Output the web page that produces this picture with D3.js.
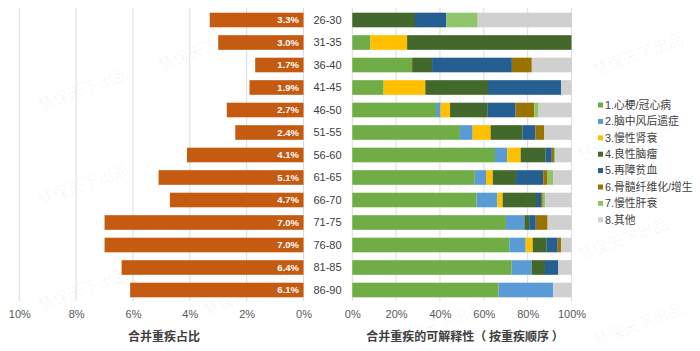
<!DOCTYPE html>
<html><head><meta charset="utf-8">
<script src="https://cdn.jsdelivr.net/npm/d3@7"></script>
<style>
html,body{margin:0;padding:0;background:#fff;}
svg{display:block;font-family:"Liberation Sans",Arial,"Noto Sans CJK SC",sans-serif;}
</style></head>
<body>
<svg id="c" width="700" height="351"></svg>
<script>
const ages = ["26-30","31-35","36-40","41-45","46-50","51-55","56-60","61-65","66-70","71-75","76-80","81-85","86-90"];
const share = [3.3,3.0,1.7,1.9,2.7,2.4,4.1,5.1,4.7,7.0,7.0,6.4,6.1];
const diseases = ["1.心梗/冠心病","2.脑中风后遗症","3.慢性肾衰","4.良性脑瘤","5.再障贫血","6.骨髓纤维化/增生","7.慢性肝衰","8.其他"];
const s1 = [0, 8.3, 27.3, 14.3, 38.2, 49.1, 65.1, 55.9, 56.7, 70.1, 71.6, 72.7, 66.7];
const s2 = [0, 0, 0, 0, 2.1, 5.8, 5.6, 5.1, 9.5, 8.4, 7.5, 9.1, 25.0];
const s3 = [0, 16.7, 0, 19.0, 4.3, 8.2, 6.1, 3.1, 2.4, 0, 3.2, 0, 0];
const s4 = [28.6, 75.0, 9.1, 28.6, 17.2, 14.6, 11.4, 10.6, 15.2, 2.2, 6.4, 6.1, 0];
const s5 = [14.3, 0, 36.4, 33.3, 12.7, 5.8, 2.8, 12.4, 2.3, 3.0, 5.0, 6.1, 0];
const s6 = [0, 0, 9.1, 0, 8.5, 4.1, 1.0, 2.0, 0.8, 5.4, 1.5, 0, 0];
const s7 = [14.3, 0, 0, 0, 2.0, 0, 0.6, 2.6, 1.1, 0, 0, 0, 0];
const s8 = [42.9, 0, 18.2, 4.8, 15.0, 12.4, 7.4, 8.3, 12.0, 10.9, 4.8, 6.0, 8.3];
const leftTicks = [0,2,4,6,8,10];
const rightTicks = [0,20,40,60,80,100];
const colors = ["#70AD47","#5B9BD5","#FFC000","#43682B","#255E91","#997300","#8FC46A","#D0D0D0"];
const series = [s1,s2,s3,s4,s5,s6,s7,s8];

const svg = d3.select("#c");

// watermark
const wm = [[85,95],[205,55],[85,190],[85,295],[250,300],[440,330],[420,40],[640,60],[625,145],[625,245],[470,190],[640,330]];
svg.append("g").selectAll("text").data(wm).join("text")
  .attr("transform", d=>`translate(${d[0]},${d[1]}) rotate(-20)`)
  .attr("text-anchor","middle").attr("font-size",16)
  .attr("font-family","Noto Sans CJK SC").attr("fill","#000").attr("fill-opacity",0.04)
  .text("慧保天下出品");

const y = d3.scaleBand().domain(ages).range([8.75, 301.25]).paddingInner(0.35).paddingOuter(0.175);
const xl = d3.scaleLinear().domain([0,10]).range([303.5, 19.3]);
const xr = d3.scaleLinear().domain([0,100]).range([352.3, 571.5]);

// gridlines
svg.append("g").selectAll("line").data(leftTicks).join("line")
  .attr("x1",d=>xl(d)).attr("x2",d=>xl(d)).attr("y1",8).attr("y2",301)
  .attr("stroke","#dcdcdc").attr("stroke-width",1);
svg.append("g").selectAll("line").data(rightTicks).join("line")
  .attr("x1",d=>xr(d)).attr("x2",d=>xr(d)).attr("y1",8).attr("y2",301)
  .attr("stroke","#dcdcdc").attr("stroke-width",1);

// left bars
svg.append("g").selectAll("rect").data(ages).join("rect")
  .attr("x",(d,i)=>xl(share[i])).attr("y",d=>y(d))
  .attr("width",(d,i)=>xl(0)-xl(share[i])).attr("height",y.bandwidth())
  .attr("fill","#C55A11");
svg.append("g").selectAll("text").data(ages).join("text")
  .attr("x",299).attr("y",d=>y(d)+y.bandwidth()/2).attr("dy","0.35em")
  .attr("text-anchor","end").attr("font-size",9.5).attr("font-weight","bold").attr("fill","#fff")
  .text((d,i)=>share[i].toFixed(1)+"%");

// age labels
svg.append("g").selectAll("text").data(ages).join("text")
  .attr("x",327.5).attr("y",d=>y(d)+y.bandwidth()/2).attr("dy","0.35em")
  .attr("text-anchor","middle").attr("font-size",11).attr("fill","#404040")
  .text(d=>d);

// stacked bars
const table = ages.map((a,i)=>{const o={age:a}; diseases.forEach((k,j)=>o[k]=series[j][i]); return o;});
const stacked = d3.stack().keys(diseases)(table);
svg.append("g").selectAll("g").data(stacked).join("g")
  .attr("fill",(d,i)=>colors[i])
  .selectAll("rect").data(d=>d).join("rect")
  .attr("x",d=>xr(d[0])).attr("y",d=>y(d.data.age))
  .attr("width",d=>Math.max(0,xr(d[1])-xr(d[0]))).attr("height",y.bandwidth());

// axes tick labels
const axL = svg.append("g").attr("transform","translate(0,301)")
  .call(d3.axisBottom(xl).tickValues(leftTicks).tickFormat(d=>d+"%").tickSize(0).tickPadding(9));
const axR = svg.append("g").attr("transform","translate(0,301)")
  .call(d3.axisBottom(xr).tickValues(rightTicks).tickFormat(d=>d+"%").tickSize(0).tickPadding(9));
[axL,axR].forEach(a=>{
  a.select(".domain").remove();
  a.selectAll("text").attr("font-size",11).attr("fill","#595959").attr("font-family","Liberation Sans, Arial, sans-serif");
});

// axis titles
svg.append("text").attr("x",164).attr("y",341).attr("text-anchor","middle")
  .attr("font-size",12).attr("font-weight","bold").attr("fill","#404040")
  .attr("font-family","Noto Sans CJK SC").text("合并重疾占比");
svg.append("text").attr("x",465).attr("y",341).attr("text-anchor","middle")
  .attr("font-size",12).attr("font-weight","bold").attr("fill","#404040")
  .attr("font-family","Noto Sans CJK SC").attr("xml:space","preserve").text("合并重疾的可解释性（ 按重疾顺序 ）");

// legend
const lg = svg.append("g").selectAll("g").data(diseases).join("g")
  .attr("transform",(d,i)=>`translate(598,${105+i*16.4})`);
lg.append("rect").attr("x",0).attr("y",-2.5).attr("width",5).attr("height",5).attr("fill",(d,i)=>colors[i]);
lg.append("text").attr("x",7).attr("y",0).attr("dy","0.36em").attr("font-size",10.8)
  .attr("fill","#404040").attr("font-family","Liberation Sans, Noto Sans CJK SC, sans-serif").text(d=>d);
</script>
</body></html>
